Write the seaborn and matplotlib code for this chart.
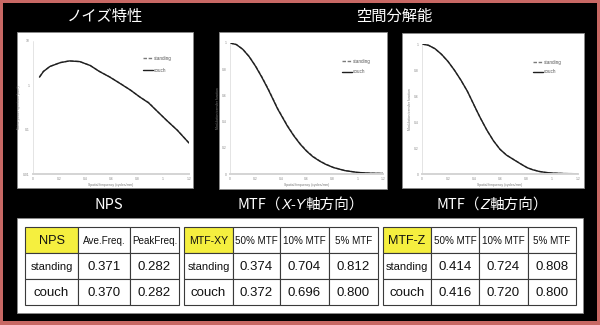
import matplotlib
matplotlib.use("Agg")
import matplotlib.pyplot as plt
from matplotlib.patches import Rectangle
from matplotlib.offsetbox import TextArea, HPacker, AnnotationBbox
from matplotlib.ticker import FuncFormatter, MultipleLocator, LogLocator
import pandas as pd
import seaborn as sns

# ---------------- data ----------------
conditions = ["standing", "couch"]

nps_freq = [0.05, 0.08, 0.13, 0.21, 0.28, 0.36, 0.44, 0.51, 0.59, 0.67, 0.75, 0.82, 0.89, 0.95, 1.03, 1.11, 1.20]
nps_standing = [1.55, 2.07, 2.67, 3.27, 3.56, 3.44, 2.81, 2.07, 1.55, 1.11, 0.78, 0.55, 0.41, 0.27, 0.16, 0.098, 0.05]
nps_couch = [1.53, 2.05, 2.66, 3.25, 3.55, 3.43, 2.80, 2.06, 1.54, 1.10, 0.78, 0.55, 0.40, 0.27, 0.16, 0.097, 0.05]

mtfxy_freq = [0, 0.05, 0.1, 0.15, 0.2, 0.25, 0.3, 0.374, 0.45, 0.5, 0.55, 0.6, 0.65, 0.704, 0.75, 0.812, 0.9, 1.0, 1.1, 1.2]
mtfxy_standing = [1.0, 0.988, 0.953, 0.898, 0.826, 0.742, 0.65, 0.5, 0.37, 0.296, 0.232, 0.178, 0.135, 0.1, 0.076, 0.05, 0.027, 0.012, 0.006, 0.004]
mtfxy_couch = [1.0, 0.988, 0.952, 0.896, 0.823, 0.738, 0.645, 0.496, 0.366, 0.292, 0.228, 0.175, 0.132, 0.098, 0.074, 0.049, 0.026, 0.012, 0.006, 0.004]

mtfz_freq = [0, 0.05, 0.1, 0.15, 0.2, 0.25, 0.3, 0.35, 0.414, 0.45, 0.5, 0.55, 0.6, 0.65, 0.724, 0.77, 0.808, 0.85, 0.9, 0.95, 1.0, 1.1, 1.2]
mtfz_standing = [1.0, 0.99, 0.963, 0.92, 0.865, 0.797, 0.72, 0.634, 0.5, 0.428, 0.335, 0.255, 0.19, 0.146, 0.1, 0.072, 0.05, 0.034, 0.02, 0.012, 0.007, 0.003, 0.002]
mtfz_couch = [1.0, 0.99, 0.964, 0.921, 0.866, 0.798, 0.721, 0.635, 0.502, 0.429, 0.336, 0.255, 0.19, 0.145, 0.099, 0.071, 0.049, 0.033, 0.02, 0.012, 0.007, 0.003, 0.002]

nps_header = ["NPS", "Ave.Freq.", "PeakFreq."]
nps_ave_freq = [0.371, 0.370]
nps_peak_freq = [0.282, 0.282]

mtfxy_header = ["MTF-XY", "50% MTF", "10% MTF", "5% MTF"]
mtfxy_50 = [0.374, 0.372]
mtfxy_10 = [0.704, 0.696]
mtfxy_5 = [0.812, 0.800]

mtfz_header = ["MTF-Z", "50% MTF", "10% MTF", "5% MTF"]
mtfz_50 = [0.414, 0.416]
mtfz_10 = [0.724, 0.720]
mtfz_5 = [0.808, 0.800]

# ---------------- style ----------------
sns.set_style("white")
JP = ["Noto Sans CJK JP", "DejaVu Sans"]
plt.rcParams["font.family"] = ["Liberation Sans", "DejaVu Sans"]
REG = ["Liberation Sans", "DejaVu Sans"]

W, H = 600, 325
fig = plt.figure(figsize=(6, 3.25), dpi=100, facecolor="#c86864")


def rect(x0, y0, x1, y1):
    return [x0 / W, 1 - y1 / H, (x1 - x0) / W, (y1 - y0) / H]


bg = fig.add_axes([0, 0, 1, 1])
bg.set_xlim(0, W)
bg.set_ylim(H, 0)
bg.axis("off")
bg.add_patch(Rectangle((3, 3), 594, 318, facecolor="black", edgecolor="none"))

# white panels
for (x0, y0, x1, y1) in [(17, 32, 193, 188), (219, 32, 387, 189), (402, 33, 584, 188), (17, 218, 583, 313)]:
    bg.add_patch(Rectangle((x0, y0), x1 - x0, y1 - y0, facecolor="white", edgecolor="#8a8a8a", lw=0.6))

# titles
bg.text(105, 16, "ノイズ特性", color="white", fontsize=11, ha="center", va="center", family=JP)
bg.text(394, 16, "空間分解能", color="white", fontsize=11, ha="center", va="center", family=JP)
bg.text(109, 205, "NPS", color="white", fontsize=10.5, ha="center", va="center", family=JP)


def composed_label(cx, cy, pieces):
    boxes = []
    for txt, italic in pieces:
        if italic:
            props = dict(color="white", fontsize=10.5, family=REG, style="italic")
        else:
            props = dict(color="white", fontsize=10.5, family=JP)
        boxes.append(TextArea(txt, textprops=props))
    pack = HPacker(children=boxes, align="baseline", pad=0, sep=0)
    ab = AnnotationBbox(pack, (cx, cy), xycoords="data", frameon=False, box_alignment=(0.5, 0.5), pad=0)
    bg.add_artist(ab)


composed_label(301, 205, [("MTF（", False), ("X-Y", True), ("軸方向）", False)])
composed_label(492, 205, [("MTF（", False), ("Z", True), ("軸方向）", False)])

palette = {"standing": "#7a7a7a", "couch": "#1e1e1e"}
dashes = {"standing": (2.5, 1.2), "couch": ""}
fmt = FuncFormatter(lambda v, p: f"{v:g}")


def make_plot(box, freq, s_vals, c_vals, ylabel, leg_anchor, spacing, logy=False):
    ax = fig.add_axes(rect(*box))
    ax.set_facecolor("white")
    df = pd.DataFrame({
        "freq": list(freq) * 2,
        "value": list(s_vals) + list(c_vals),
        "condition": ["standing"] * len(freq) + ["couch"] * len(freq),
    })
    sns.lineplot(data=df, x="freq", y="value", hue="condition", style="condition",
                 hue_order=conditions, style_order=conditions, palette=palette,
                 dashes=dashes, linewidth=1.0, ax=ax)
    ax.set_xlim(0, 1.2)
    ax.xaxis.set_major_locator(MultipleLocator(0.2))
    ax.xaxis.set_minor_locator(MultipleLocator(0.05))
    if logy:
        ax.set_yscale("log")
        ax.set_ylim(0.01, 10)
        ax.yaxis.set_major_locator(LogLocator(base=10))
        ax.yaxis.set_minor_locator(LogLocator(base=10, subs=range(2, 10)))
    else:
        ax.set_ylim(0, 1)
        ax.yaxis.set_major_locator(MultipleLocator(0.2))
        ax.yaxis.set_minor_locator(MultipleLocator(0.1))
    ax.xaxis.set_major_formatter(fmt)
    ax.yaxis.set_major_formatter(fmt)
    ax.set_xlabel("Spatial frequency (cycles/mm)", fontsize=2.4, color="#777", labelpad=1.5)
    ax.set_ylabel(ylabel, fontsize=2.4, color="#777", labelpad=1.5)
    ax.tick_params(which="both", labelsize=2.4, colors="#aaa", labelcolor="#888",
                   length=1, width=0.3, pad=1.2)
    for s in ["top", "right"]:
        ax.spines[s].set_visible(False)
    ax.spines["left"].set_color("#cfcfcf")
    ax.spines["left"].set_linewidth(0.4)
    ax.spines["bottom"].set_color("#d4d4d4")
    ax.spines["bottom"].set_linewidth(1.4)
    sns.move_legend(ax, loc="upper left", bbox_to_anchor=leg_anchor, title=None,
                    frameon=False, fontsize=3.3, handlelength=2.2, handletextpad=0.2,
                    labelspacing=spacing, borderaxespad=0, borderpad=0)
    for t in ax.get_legend().get_texts():
        t.set_color("#555")
    return ax


make_plot((33, 41, 189, 174), nps_freq, nps_standing, nps_couch,
          "Noise power spectrum (mm²)", (0.705, 0.889), 1.6, logy=True)
make_plot((230, 43, 383, 174), mtfxy_freq, mtfxy_standing, mtfxy_couch,
          "Modulation transfer function", (0.732, 0.88), 1.2)
make_plot((422, 44, 578, 174), mtfz_freq, mtfz_standing, mtfz_couch,
          "Modulation transfer function", (0.712, 0.879), 1.0)

# ---------------- tables ----------------
YELLOW = "#f5ef3f"
row_y = [227, 253, 279, 305]
header_sizes = {"NPS": 9.2, "MTF-XY": 7.6, "MTF-Z": 9.0}


def draw_table(x_edges, header, columns):
    rows = [header] + [[conditions[i]] + [f"{col[i]:.3f}" for col in columns] for i in range(len(conditions))]
    for r in range(3):
        for c in range(len(x_edges) - 1):
            x0, x1 = x_edges[c], x_edges[c + 1]
            y0, y1 = row_y[r], row_y[r + 1]
            fc = YELLOW if (r == 0 and c == 0) else "white"
            bg.add_patch(Rectangle((x0, y0), x1 - x0, y1 - y0, facecolor=fc,
                                   edgecolor="#3a3a3a", lw=0.8))
            txt = rows[r][c]
            if r == 0 and c == 0:
                fs = header_sizes[txt]
            elif r == 0:
                fs = 7.1
            elif txt == "standing":
                fs = 8.0
            else:
                fs = 9.5
            bg.text((x0 + x1) / 2, (y0 + y1) / 2 + 0.5, txt, ha="center", va="center",
                    fontsize=fs, family=REG, color="#111")


draw_table([25, 78, 130, 179], nps_header, [nps_ave_freq, nps_peak_freq])
draw_table([184, 233, 280, 329, 378], mtfxy_header, [mtfxy_50, mtfxy_10, mtfxy_5])
draw_table([383, 431, 479, 528, 576], mtfz_header, [mtfz_50, mtfz_10, mtfz_5])

fig.savefig("out.png", dpi=100, facecolor=fig.get_facecolor())
